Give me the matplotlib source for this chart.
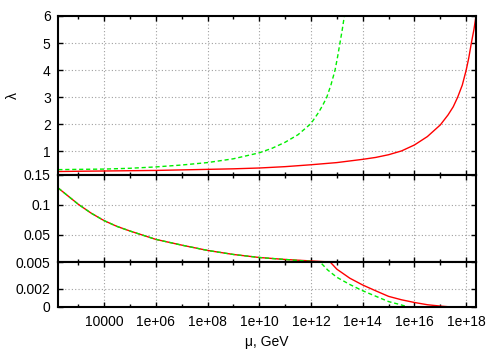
import matplotlib
matplotlib.use('Agg')
import matplotlib.pyplot as plt
from matplotlib.ticker import FixedLocator, FixedFormatter, NullFormatter

# ---------------- data ----------------
# upper pair of curves (shown in top panel)
mu_red_up = [170, 1e3, 1e4, 1e5, 1e6, 1e7, 1e8, 1e9, 1e10, 1e11, 1e12, 1e13,
             1e14, 10**14.5, 1e15, 10**15.5, 1e16, 10**16.5, 1e17, 10**17.3,
             10**17.5, 10**17.67, 10**17.85, 1e18, 10**18.1, 10**18.2,
             10**18.3, 10**18.38]
lam_red_up = [0.26, 0.27, 0.28, 0.29, 0.30, 0.32, 0.34, 0.36, 0.39, 0.44, 0.51,
              0.59, 0.71, 0.78, 0.88, 1.02, 1.24, 1.55, 1.98, 2.35, 2.65, 3.0,
              3.45, 4.0, 4.45, 5.0, 5.5, 6.0]

mu_green_up = [170, 1e3, 1e4, 1e5, 1e6, 1e7, 1e8, 1e9, 1e10, 10**10.5, 1e11,
               10**11.5, 1e12, 10**12.3, 10**12.45, 10**12.61, 10**12.77,
               10**12.93, 10**13.03, 10**13.12, 10**13.21, 10**13.29]
lam_green_up = [0.33, 0.34, 0.35, 0.38, 0.43, 0.50, 0.59, 0.73, 0.95, 1.12,
                1.34, 1.62, 2.03, 2.45, 2.7, 3.0, 3.45, 4.0, 4.5, 5.0, 5.5, 6.0]

# lower pair of curves (shown in middle and bottom panels)
mu_red_lo = [170, 1e3, 10**3.5, 1e4, 10**4.5, 1e5, 1e6, 1e7, 1e8, 1e9, 1e10,
             1e11, 1e12, 10**12.74, 1e13, 10**13.5, 1e14, 10**14.5, 1e15,
             10**15.5, 1e16, 10**16.5, 1e17, 10**17.3, 10**17.64]
lam_red_lo = [0.1275, 0.1008, 0.086, 0.0736, 0.064, 0.0564, 0.0425, 0.033,
              0.0242, 0.0175, 0.0125, 0.0092, 0.0068, 0.0050, 0.0042, 0.0032,
              0.00244, 0.0018, 0.00118, 0.0008, 0.0005, 0.00025, 0.0001,
              0.00003, 0.0]

mu_green_lo = [170, 1e3, 10**3.5, 1e4, 10**4.5, 1e5, 1e6, 1e7, 1e8, 1e9, 1e10,
               1e11, 1e12, 10**12.35, 10**12.65, 1e13, 10**13.5, 1e14,
               10**14.5, 1e15, 10**15.4, 10**15.77]
lam_green_lo = [0.1275, 0.1008, 0.086, 0.0736, 0.064, 0.0564, 0.0425, 0.033,
                0.0242, 0.0175, 0.0125, 0.0092, 0.0060, 0.0050, 0.0041, 0.0033,
                0.0025, 0.0018, 0.0012, 0.0006, 0.0003, 0.0]

x_major = [1e4, 1e6, 1e8, 1e10, 1e12, 1e14, 1e16, 1e18]
x_labels = ['10000', '1e+06', '1e+08', '1e+10', '1e+12', '1e+14', '1e+16', '1e+18']
x_minor = [1e3, 1e5, 1e7, 1e9, 1e11, 1e13, 1e15, 1e17]

top_yticks = [0.15, 1, 2, 3, 4, 5, 6]
top_ylabels = ['0.15', '1', '2', '3', '4', '5', '6']
mid_yticks = [0.005, 0.05, 0.1, 0.15]
mid_ylabels = ['0.005', '0.05', '0.1', '']
bot_yticks = [0, 0.002, 0.005]
bot_ylabels = ['0', '0.002', '']

# ---------------- style ----------------
plt.rcParams['font.family'] = ['Liberation Sans', 'DejaVu Sans']
plt.rcParams['font.size'] = 10

RED = '#ff0000'
GREEN = '#00ee00'

fig = plt.figure(figsize=(5, 3.5), dpi=100)
L, W = 0.1166, 0.8354
ax_top = fig.add_axes([L, 0.5014, W, 0.4529])
ax_mid = fig.add_axes([L, 0.2514, W, 0.2500])
ax_bot = fig.add_axes([L, 0.1229, W, 0.1286])

panels = [
    (ax_top, (0.15, 6), top_yticks, top_ylabels),
    (ax_mid, (0.005, 0.15), mid_yticks, mid_ylabels),
    (ax_bot, (0, 0.005), bot_yticks, bot_ylabels),
]

for ax, ylim, yt, yl in panels:
    ax.set_xscale('log')
    ax.set_xlim(170, 2.4e18)
    ax.set_ylim(*ylim)
    for mu, lam in [(mu_red_up, lam_red_up), (mu_red_lo, lam_red_lo)]:
        ax.plot(mu, lam, color=RED, lw=1.0, zorder=3)
    for mu, lam in [(mu_green_up, lam_green_up), (mu_green_lo, lam_green_lo)]:
        ax.plot(mu, lam, color=GREEN, lw=1.0, dashes=(3, 2), zorder=4)
    ax.xaxis.set_major_locator(FixedLocator(x_major))
    ax.xaxis.set_minor_locator(FixedLocator(x_minor))
    ax.xaxis.set_minor_formatter(NullFormatter())
    if ax is ax_bot:
        ax.xaxis.set_major_formatter(FixedFormatter(x_labels))
    else:
        ax.xaxis.set_major_formatter(NullFormatter())
    ax.yaxis.set_major_locator(FixedLocator(yt))
    ax.yaxis.set_major_formatter(FixedFormatter(yl))
    ax.yaxis.set_minor_locator(FixedLocator([]))
    ax.grid(True, which='major', color='#a0a0a0', lw=0.8,
            linestyle=(0, (1, 2)), zorder=1)
    ax.tick_params(which='both', direction='in', top=True, right=True,
                   width=1.0, colors='black', labelsize=10)
    ax.tick_params(which='major', length=3.5)
    ax.tick_params(which='minor', length=2.5)
    ax.tick_params(axis='y', pad=5.5)
    ax.tick_params(axis='x', pad=6)
    for s in ax.spines.values():
        s.set_linewidth(1.5)
        s.set_color('black')
        s.set_zorder(5)
    ax.set_axisbelow(True)

ax_top.set_ylabel('λ', fontsize=10)
ax_top.yaxis.set_label_coords(-0.092, 0.5)
ax_bot.set_xlabel('μ, GeV', fontsize=10, labelpad=4)

fig.savefig('out.png', dpi=100)
